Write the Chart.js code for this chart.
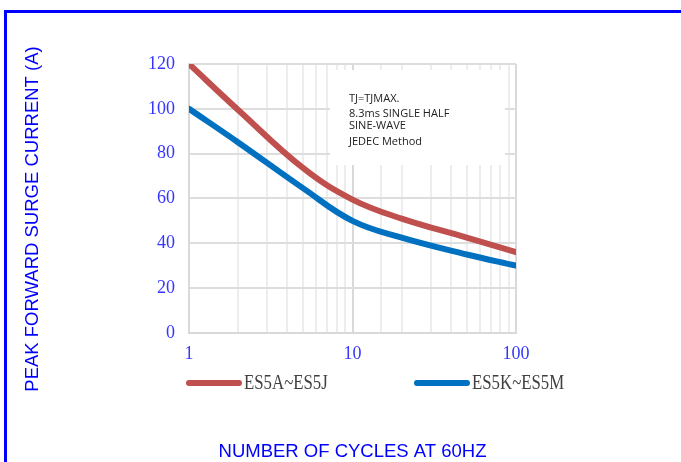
<!DOCTYPE html>
<html><head><meta charset="utf-8">
<script src="https://cdn.jsdelivr.net/npm/chart.js@4/dist/chart.umd.min.js"></script>
<style>
html,body{margin:0;padding:0;background:#fff;}
#wrap{position:relative;width:681px;height:462px;overflow:hidden;background:#fff;}
#frame{position:absolute;left:4px;top:10px;width:700px;height:470px;border-top:3px solid #0000ff;border-left:3px solid #0000ff;pointer-events:none;}
canvas{position:absolute;left:0;top:0;}
</style></head><body>
<div id="wrap"><canvas id="c" width="681" height="462"></canvas><div id="frame"></div></div>
<script>
// ---- data ----
const cycles = [1, 2, 5, 10, 20, 50, 100];
const es5aToJ = [120, 99.5, 73.5, 59.5, 51, 42.5, 36];
const es5kToM = [100, 85, 64.5, 50, 42.5, 35, 30];
const seriesNames = ['ES5A~ES5J', 'ES5K~ES5M'];
const seriesColors = ['#C0504D', '#0070C0'];
const xTickLabels = [1, 10, 100];
const yTickValues = [0, 20, 40, 60, 80, 100, 120];
const noteLines = ['TJ=TJMAX.', '8.3ms SINGLE HALF', 'SINE-WAVE', 'JEDEC Method'];
const yTitleText = 'PEAK FORWARD SURGE CURRENT (A)';
const xTitleText = 'NUMBER OF CYCLES AT 60HZ';

const toPoints = arr => cycles.map((c, i) => ({x: c, y: arr[i]}));

const notePlugin = {
  id: 'noteBox',
  beforeDatasetsDraw(chart) {
    const {ctx, chartArea: ca} = chart;
    ctx.save();
    ctx.fillStyle = '#ffffff';
    ctx.fillRect(ca.left + 141, ca.top + 6, 175, 95);
    ctx.fillStyle = '#222222';
    ctx.font = '11px "Open Sans"';
    ctx.textAlign = 'left';
    ctx.textBaseline = 'alphabetic';
    const baselines = [37.5, 53, 64.5, 81];
    noteLines.forEach((t, i) => ctx.fillText(t, ca.left + 160, ca.top + baselines[i]));
    ctx.restore();
  }
};

const extrasPlugin = {
  id: 'extras',
  afterDraw(chart) {
    const {ctx, chartArea: ca} = chart;
    ctx.save();
    ctx.translate(33, 219);
    ctx.rotate(-Math.PI / 2);
    ctx.fillStyle = '#0000ff';
    ctx.font = '18.5px "Liberation Sans"';
    ctx.textAlign = 'center';
    ctx.textBaseline = 'middle';
    ctx.fillText(yTitleText, 0, 0);
    ctx.restore();
    const offsets = [0, 228];
    chart.data.datasets.forEach((ds, i) => {
      const x0 = ca.left + offsets[i];
      const y = 383;
      ctx.save();
      ctx.strokeStyle = ds.borderColor;
      ctx.lineWidth = 6;
      ctx.lineCap = 'round';
      ctx.beginPath();
      ctx.moveTo(x0, y);
      ctx.lineTo(x0 + 50, y);
      ctx.stroke();
      ctx.fillStyle = '#404040';
      ctx.font = '20px "Liberation Serif"';
      ctx.textBaseline = 'middle';
      ctx.translate(x0 + 55, y + 1);
      ctx.scale(0.84, 1);
      ctx.fillText(ds.label, 0, 0);
      ctx.restore();
    });
  }
};

new Chart(document.getElementById('c'), {
  type: 'line',
  data: {
    datasets: [
      {label: seriesNames[0], data: toPoints(es5aToJ), borderColor: seriesColors[0], backgroundColor: seriesColors[0], borderWidth: 6, pointRadius: 0, tension: 0.4, borderCapStyle: 'round', fill: false},
      {label: seriesNames[1], data: toPoints(es5kToM), borderColor: seriesColors[1], backgroundColor: seriesColors[1], borderWidth: 6, pointRadius: 0, tension: 0.4, borderCapStyle: 'round', fill: false}
    ]
  },
  options: {
    responsive: false,
    animation: false,
    devicePixelRatio: 1,
    layout: {padding: {left: 23, top: 64, right: 165, bottom: 1}},
    plugins: {legend: {display: false}, tooltip: {enabled: false}},
    scales: {
      x: {
        type: 'logarithmic',
        min: 1, max: 100,
        grid: {
          drawTicks: false,
          lineWidth: 2,
          color: c => {
            const v = c.tick ? c.tick.value : 0;
            return Math.abs(Math.log10(v) - Math.round(Math.log10(v))) < 1e-9 ? '#d9d9d9' : '#ededed';
          }
        },
        border: {color: '#d9d9d9', width: 2},
        ticks: {
          autoSkip: false, maxRotation: 0, padding: 11,
          color: '#3535ff',
          font: {family: '"Liberation Serif"', size: 18},
          callback: v => xTickLabels.includes(v) ? String(v) : ''
        },
        title: {
          display: true, text: xTitleText, color: '#0000ff',
          font: {family: '"Liberation Sans"', size: 18.5, lineHeight: 1},
          padding: {top: 66, bottom: 0}
        }
      },
      y: {
        min: 0, max: 120,
        afterBuildTicks: s => { s.ticks = yTickValues.map(v => ({value: v})); },
        afterFit: s => { s.width = 166; },
        grid: {drawTicks: false, lineWidth: 2, color: '#dddddd'},
        border: {color: '#d9d9d9', width: 2},
        ticks: {
          padding: 14, color: '#3535ff',
          font: {family: '"Liberation Serif"', size: 18}
        }
      }
    }
  },
  plugins: [notePlugin, extrasPlugin]
});
</script>
</body></html>
